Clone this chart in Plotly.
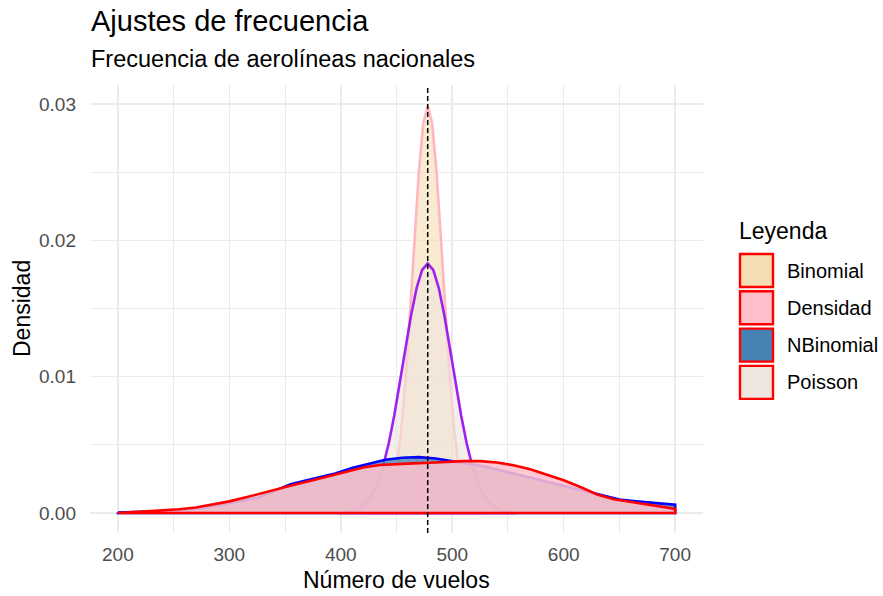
import plotly.graph_objects as go

# ---------------- data ----------------
binom_x = [430, 434, 438, 442, 446, 450, 454, 458, 462, 466, 470, 474, 478,
           482, 486, 490, 494, 498, 502, 506, 510, 514, 518, 522, 526]
binom_y = [0.00002, 0.00013, 0.00033, 0.00077, 0.00166, 0.00326, 0.00588, 0.00966,
           0.01451, 0.01991, 0.02495, 0.02858, 0.02990, 0.02858, 0.02495, 0.01991,
           0.01451, 0.00966, 0.00588, 0.00326, 0.00166, 0.00077, 0.00033, 0.00013, 0.00002]

pois_x = [398, 408, 418, 423, 428, 433, 438, 443, 448, 453, 458, 463, 468, 473, 478,
          483, 488, 493, 498, 503, 508, 513, 518, 523, 528, 533, 538, 548, 558]
pois_y = [0.00002, 0.00011, 0.00043, 0.00078, 0.00135, 0.00221, 0.00344, 0.00509,
          0.00715, 0.00953, 0.01205, 0.01447, 0.01649, 0.01783, 0.01830, 0.01783,
          0.01649, 0.01447, 0.01205, 0.00953, 0.00715, 0.00509, 0.00344, 0.00221,
          0.00135, 0.00078, 0.00043, 0.00011, 0.00002]

nbin_x = [200, 225, 250, 275, 300, 325, 340, 355, 365, 380, 395, 410, 425, 440, 455,
          470, 485, 500, 515, 530, 545, 560, 575, 590, 605, 620, 635, 650, 665, 680, 700]
nbin_y = [0.00003, 0.00007, 0.00016, 0.00035, 0.0007, 0.0011, 0.0016, 0.0021, 0.0023,
          0.0026, 0.0029, 0.0033, 0.0036, 0.0039, 0.00405, 0.0041, 0.0040, 0.0038,
          0.0036, 0.0034, 0.0031, 0.0028, 0.0025, 0.0022, 0.0019, 0.0016, 0.0013,
          0.00098, 0.00085, 0.00075, 0.0006]

dens_x = [200, 225, 240, 255, 270, 285, 300, 315, 330, 345, 360, 375, 390, 405, 420,
          435, 450, 465, 480, 495, 510, 525, 540, 555, 570, 585, 600, 615, 630, 645,
          660, 675, 690, 700]
dens_y = [0.0, 0.0001, 0.00018, 0.00027, 0.0004, 0.0006, 0.00085, 0.00115, 0.00148,
          0.0018, 0.0021, 0.0024, 0.00272, 0.00303, 0.00333, 0.00352, 0.0036, 0.00364,
          0.00368, 0.00376, 0.0038, 0.0038, 0.0037, 0.0035, 0.0032, 0.0028, 0.0024,
          0.0019, 0.00135, 0.0010, 0.0008, 0.0006, 0.0004, 0.0003]

mean_line = 478

legend_names = ["Binomial", "Densidad", "NBinomial", "Poisson"]
legend_fills = ["#F5DEB3", "#FFC0CB", "#4682B4", "#EEE5DE"]

x_ticks = [200, 300, 400, 500, 600, 700]
y_ticks = [0.00, 0.01, 0.02, 0.03]
y_tick_text = ["0.00", "0.01", "0.02", "0.03"]

# ---------------- geometry helpers ----------------
W, H = 883, 596
# plot panel in page pixel coordinates
PL, PR, PT, PB = 90, 703, 85, 533


def px(xp):
    return (xp - PL) / (PR - PL)


def py(yp):
    return (PB - yp) / (PB - PT)


def closed(xs, ys):
    return list(xs) + [xs[-1], xs[0], xs[0]], list(ys) + [0, 0, ys[0]]


fig = go.Figure()

series = [
    (binom_x, binom_y, "rgba(245,222,179,0.6)", "#FFB6C1", "Binomial"),
    (pois_x, pois_y, "rgba(238,229,222,0.6)", "#A020F0", "Poisson"),
    (nbin_x, nbin_y, "rgba(70,130,180,0.75)", "#0000FF", "NBinomial"),
    (dens_x, dens_y, "rgba(255,192,203,0.87)", "#FF0000", "Densidad"),
]
for xs, ys, fc, lc, nm in series:
    cx, cy = closed(xs, ys)
    fig.add_trace(go.Scatter(x=cx, y=cy, mode="lines", fill="toself",
                             fillcolor=fc, line=dict(color=lc, width=2.6),
                             name=nm, showlegend=False, hoverinfo="skip"))

# dashed mean line
fig.add_shape(type="line", x0=mean_line, x1=mean_line, xref="x", y0=0, y1=1,
              yref="paper", line=dict(color="black", width=1.5, dash="5px,3px"),
              layer="above")

FONT = "Liberation Sans, Arial, sans-serif"
ann = []
ann.append(dict(text="Ajustes de frecuencia", x=px(89), y=py(21), xref="paper",
                yref="paper", xanchor="left", yanchor="middle", showarrow=False,
                font=dict(family=FONT, size=29, color="black")))
ann.append(dict(text="Frecuencia de aerolíneas nacionales", x=px(89), y=py(59),
                xref="paper", yref="paper", xanchor="left", yanchor="middle",
                showarrow=False, font=dict(family=FONT, size=23.5, color="black")))
ann.append(dict(text="Número de vuelos", x=0.5, y=py(580), xref="paper", yref="paper",
                xanchor="center", yanchor="middle", showarrow=False,
                font=dict(family=FONT, size=23, color="black")))
ann.append(dict(text="Densidad", x=px(22), y=0.5, xref="paper", yref="paper",
                xanchor="center", yanchor="middle", showarrow=False, textangle=-90,
                font=dict(family=FONT, size=23, color="black")))
ann.append(dict(text="Leyenda", x=px(737), y=py(231), xref="paper", yref="paper",
                xanchor="left", yanchor="middle", showarrow=False,
                font=dict(family=FONT, size=23, color="black")))

key_top = 254
key_step = 37.3
key_size = 33
for i, (nm, fc) in enumerate(zip(legend_names, legend_fills)):
    t = key_top + i * key_step
    fig.add_shape(type="rect", xref="paper", yref="paper",
                  x0=px(740), x1=px(740 + key_size), y0=py(t), y1=py(t + key_size),
                  fillcolor=fc, line=dict(color="#FF0000", width=2.4))
    ann.append(dict(text=nm, x=px(785), y=py(t + key_size / 2), xref="paper",
                    yref="paper", xanchor="left", yanchor="middle", showarrow=False,
                    font=dict(family=FONT, size=20, color="black")))

fig.update_layout(
    width=W, height=H,
    margin=dict(l=PL, r=W - PR, t=PT, b=H - PB, pad=0),
    paper_bgcolor="white", plot_bgcolor="white",
    showlegend=False,
    annotations=ann,
    font=dict(family=FONT),
    xaxis=dict(range=[175, 725], tickvals=x_ticks, showgrid=True, gridcolor="#EBEBEB",
               gridwidth=1.6, zeroline=False, showline=False, ticks="",
               tickfont=dict(family=FONT, size=19, color="#4D4D4D"),
               ticklabelstandoff=8,
               minor=dict(tickvals=[250, 350, 450, 550, 650], showgrid=True,
                          gridcolor="#EBEBEB", gridwidth=1)),
    yaxis=dict(range=[-0.00147, 0.0314], tickvals=y_ticks, ticktext=y_tick_text,
               showgrid=True, gridcolor="#EBEBEB", gridwidth=1.6, zeroline=False,
               showline=False, ticks="",
               tickfont=dict(family=FONT, size=19, color="#4D4D4D"),
               ticklabelstandoff=13,
               minor=dict(tickvals=[0.005, 0.015, 0.025], showgrid=True,
                          gridcolor="#EBEBEB", gridwidth=1)),
)

# remove the default 8px body margin so the figure fills the window exactly
fig.write_html("out.html",
               config={"displayModeBar": False, "staticPlot": True},
               post_script="document.body.style.margin='0';document.body.style.overflow='hidden';")
